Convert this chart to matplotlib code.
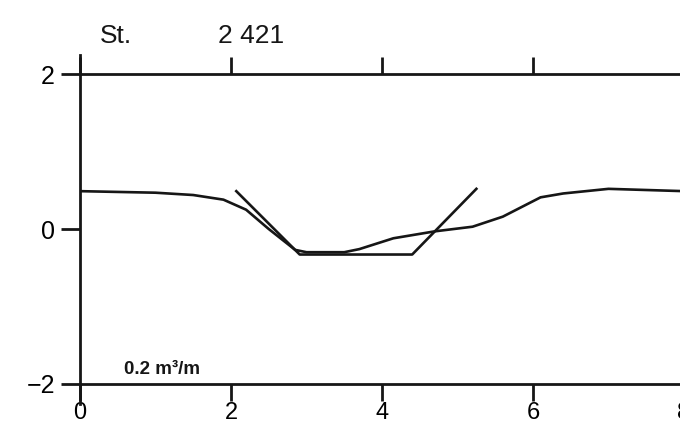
import matplotlib
matplotlib.use("Agg")
import matplotlib.pyplot as plt

# bed profile (smooth line)
profile_x = [0, 1.0, 1.5, 1.9, 2.2, 2.5, 2.85, 3.0, 3.5, 3.7, 4.15, 4.7, 5.2, 5.6, 6.1, 6.4, 7.0, 8.0]
profile_y = [0.49, 0.47, 0.44, 0.38, 0.25, 0.0, -0.27, -0.30, -0.30, -0.26, -0.12, -0.03, 0.03, 0.16, 0.41, 0.46, 0.52, 0.49]

# trapezoid (design channel)
trap_x = [2.07, 2.91, 4.4, 5.25]
trap_y = [0.49, -0.33, -0.33, 0.52]

xticks = [0, 2, 4, 6, 8]
yticks = [-2, 0, 2]
station = "2 421"
scale_label = "0.2 m\u00b3/m"

plt.rcParams["font.family"] = ["Liberation Sans", "DejaVu Sans"]
ink = "#161616"

fig = plt.figure(figsize=(6.8, 4.28), dpi=100)
ax = fig.add_axes([80 / 680, 0.0551, 8 * 75.5 / 680, 0.816])

ax.plot(profile_x, profile_y, color=ink, lw=1.9, solid_joinstyle="round")
ax.plot(trap_x, trap_y, color=ink, lw=1.9, solid_joinstyle="round")

ax.set_xlim(0, 8)
ax.set_ylim(-2.27, 2.25)

for side in ["top", "bottom", "left"]:
    ax.spines[side].set_linewidth(2)
    ax.spines[side].set_color(ink)
ax.spines["right"].set_visible(False)
ax.spines["top"].set_position(("data", 2))
ax.spines["bottom"].set_position(("data", -2))

ax.set_xticks(xticks)
ax.set_yticks(yticks)
ax.set_yticklabels(["\u22122", "0", "2"])
ax.tick_params(axis="x", which="both", direction="out", length=12, width=2,
               color=ink, labelsize=17, pad=1, top=True, labeltop=False)
ax.tick_params(axis="y", direction="out", length=14, width=2, color=ink,
               labelsize=18, pad=4)

ax.text(0.26, 2.41, "St.", fontsize=19, color=ink, va="baseline")
ax.text(1.83, 2.41, station, fontsize=19, color=ink, va="baseline")
ax.text(0.58, -1.88, scale_label, fontsize=13.5, fontweight="bold", color=ink, va="baseline")

fig.savefig("out.png", dpi=100)
